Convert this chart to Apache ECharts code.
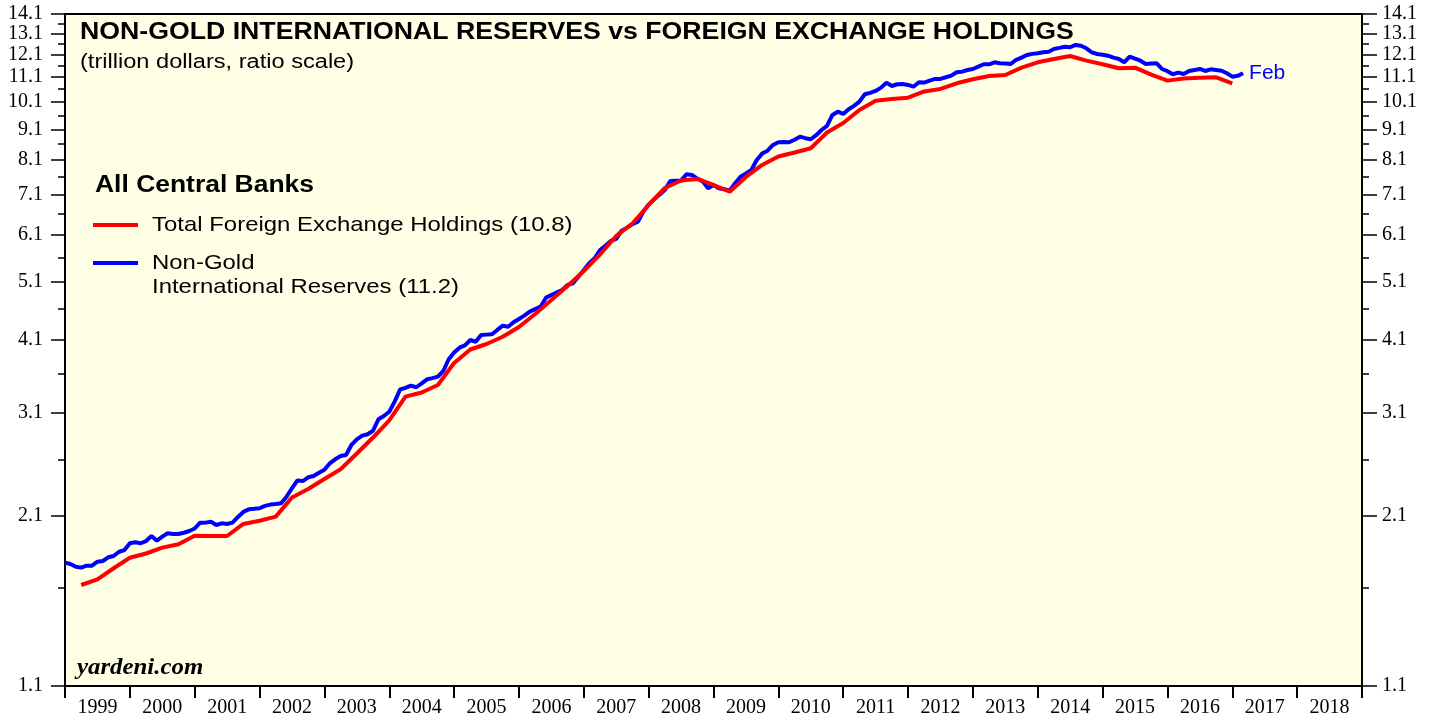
<!DOCTYPE html>
<html>
<head>
<meta charset="utf-8">
<script src="https://cdn.jsdelivr.net/npm/echarts@6/dist/echarts.min.js"></script>
<style>
  html, body { margin: 0; padding: 0; background: #fff; }
  #chart { width: 1436px; height: 719px; }
</style>
</head>
<body>
<div id="chart"></div>
<script>
// Non-gold international reserves, monthly, first value = start of 1999 (trillion $)
const reservesStart = 1999;
const reservesValues = [
  1.757, 1.748, 1.73, 1.724, 1.737, 1.737, 1.763, 1.768, 1.793, 1.802, 1.831, 1.843,
  1.891, 1.898, 1.891, 1.907, 1.944, 1.91, 1.939, 1.964, 1.959, 1.959, 1.968, 1.981,
  2.0, 2.045, 2.045, 2.052, 2.027, 2.04, 2.035, 2.045, 2.09, 2.13, 2.151, 2.155,
  2.16, 2.179, 2.19, 2.195, 2.201, 2.257, 2.33, 2.4, 2.395, 2.429, 2.441, 2.472,
  2.5, 2.562, 2.601, 2.634, 2.644, 2.746, 2.806, 2.845, 2.86, 2.899, 3.028, 3.066,
  3.116, 3.237, 3.39, 3.41, 3.439, 3.419, 3.47, 3.524, 3.54, 3.559, 3.637, 3.802,
  3.9, 3.973, 4.009, 4.091, 4.064, 4.169, 4.175, 4.18, 4.25, 4.319, 4.302, 4.375,
  4.43, 4.487, 4.555, 4.6, 4.642, 4.804, 4.853, 4.9, 4.946, 5.041, 5.074, 5.202,
  5.336, 5.474, 5.578, 5.757, 5.85, 5.958, 6.003, 6.195, 6.266, 6.35, 6.41, 6.658,
  6.84, 6.977, 7.1, 7.229, 7.481, 7.487, 7.49, 7.674, 7.654, 7.55, 7.47, 7.277,
  7.368, 7.277, 7.25, 7.211, 7.416, 7.604, 7.7, 7.799, 8.101, 8.3, 8.393, 8.576,
  8.665, 8.67, 8.665, 8.75, 8.851, 8.8, 8.764, 8.9, 9.078, 9.218, 9.611, 9.732,
  9.648, 9.821, 9.95, 10.109, 10.397, 10.45, 10.528, 10.661, 10.865, 10.729, 10.799, 10.812,
  10.771, 10.7, 10.881, 10.87, 10.95, 11.019, 11.019, 11.09, 11.157, 11.302, 11.328, 11.4,
  11.444, 11.545, 11.65, 11.65, 11.739, 11.695, 11.68, 11.665, 11.843, 11.95, 12.069, 12.12,
  12.147, 12.193, 12.22, 12.347, 12.4, 12.455, 12.427, 12.537, 12.5, 12.38, 12.193, 12.114,
  12.08, 12.037, 11.95, 11.888, 11.739, 11.992, 11.9, 11.811, 11.665, 11.68, 11.695, 11.444,
  11.35, 11.218, 11.285, 11.23, 11.358, 11.4, 11.444, 11.358, 11.43, 11.4, 11.37, 11.26,
  11.115, 11.15, 11.26
];

// Total foreign exchange holdings, quarterly, first value = end of Q1 1999
const fxStart = 1999.25;
const fxValues = [
  1.614, 1.649, 1.72, 1.79, 1.819, 1.86, 1.884, 1.946, 1.944, 1.944, 2.035, 2.06,
  2.092, 2.25, 2.324, 2.414, 2.504, 2.659, 2.825, 3.014, 3.299, 3.352, 3.449, 3.749,
  3.946, 4.029, 4.142, 4.298, 4.515, 4.762, 5.022, 5.316, 5.66, 6.072, 6.366, 6.83,
  7.284, 7.495, 7.538, 7.368, 7.183, 7.596, 7.95, 8.21, 8.335, 8.47, 8.994, 9.324,
  9.794, 10.147, 10.21, 10.263, 10.508, 10.609, 10.839, 11.005, 11.144, 11.187, 11.501, 11.739,
  11.888, 12.023, 11.811, 11.65, 11.475, 11.501, 11.2, 10.949, 11.04, 11.074, 11.09, 10.839
];

const years = [1999, 2000, 2001, 2002, 2003, 2004, 2005, 2006, 2007, 2008, 2009,
  2010, 2011, 2012, 2013, 2014, 2015, 2016, 2017, 2018, 2019];
// labelled ticks, split in two sets so the crowded top labels are not dropped
const ticksOdd = [1.1, 3.1, 5.1, 7.1, 9.1, 11.1, 13.1];
const ticksEven = [2.1, 4.1, 6.1, 8.1, 10.1, 12.1, 14.1];
const minorTicks = [1.6, 2.6, 3.6, 4.6, 5.6, 6.6, 7.6, 8.6, 9.6, 10.6, 11.6, 12.6, 13.6];

const reservesData = reservesValues.map((v, i) => [reservesStart + i / 12, v]);
const fxData = fxValues.map((v, i) => [fxStart + i / 4, v]);

const serif = 'Liberation Serif';
const sans = 'Liberation Sans';

function yAxisDef(position, ticks, len, labels, line) {
  return {
    type: 'log',
    logBase: 10,
    min: 1.1,
    max: 14.1001,   // tiny headroom so the 14.1 tick survives float rounding
    position: position,
    axisLine: { show: line, lineStyle: { color: '#000', width: 2 } },
    axisTick: { show: true, inside: false, length: len, customValues: ticks,
      lineStyle: { color: '#000', width: 1.5 } },
    axisLabel: { show: labels, customValues: ticks, margin: position === 'left' ? 22 : 20,
      showMinLabel: true, showMaxLabel: true, hideOverlap: false,
      formatter: v => Number(v).toFixed(1),
      fontFamily: serif, fontSize: 20, color: '#000' },
    splitLine: { show: false },
    minorTick: { show: false }
  };
}

const chart = echarts.init(document.getElementById('chart'));
chart.setOption({
  animation: false,
  backgroundColor: '#fff',
  grid: { left: 65, right: 74, top: 14, bottom: 33, show: true,
    backgroundColor: '#FFFFE6', borderColor: '#000', borderWidth: 2 },
  xAxis: {
    type: 'value', min: 1999, max: 2019,
    axisLine: { show: true, lineStyle: { color: '#000', width: 2 } },
    axisTick: { show: true, length: 12, customValues: years, lineStyle: { color: '#000', width: 2 } },
    axisLabel: { customValues: years.slice(0, -1).map(y => y + 0.5), margin: 12,
      formatter: v => String(Math.floor(v)), fontFamily: serif, fontSize: 20, color: '#000' },
    splitLine: { show: false }
  },
  yAxis: [
    yAxisDef('left', ticksOdd, 14, true, true),
    yAxisDef('left', ticksEven, 14, true, false),
    yAxisDef('left', minorTicks, 7, false, false),
    yAxisDef('right', ticksOdd, 15, true, true),
    yAxisDef('right', ticksEven, 15, true, false),
    yAxisDef('right', minorTicks, 7, false, false)
  ],
  series: [
    {
      name: 'Non-Gold International Reserves', type: 'line', data: reservesData,
      showSymbol: false, lineStyle: { color: '#0000FF', width: 4 }, color: '#0000FF',
      endLabel: { show: true, formatter: 'Feb', color: '#0000FF', fontFamily: sans,
        fontSize: 21, distance: 6 }
    },
    {
      name: 'Total Foreign Exchange Holdings', type: 'line', data: fxData,
      showSymbol: false, lineStyle: { color: '#FF0000', width: 4 }, color: '#FF0000'
    }
  ],
  graphic: [
    { type: 'text', x: 80, y: 33, scaleX: 1.16,
      style: { text: 'NON-GOLD INTERNATIONAL RESERVES vs FOREIGN EXCHANGE HOLDINGS',
        font: 'bold 23px "Liberation Sans"', fill: '#000', verticalAlign: 'middle' } },
    { type: 'text', x: 80, y: 62, scaleX: 1.18,
      style: { text: '(trillion dollars, ratio scale)',
        font: '20px "Liberation Sans"', fill: '#000', verticalAlign: 'middle' } },
    { type: 'text', x: 95, y: 186, scaleX: 1.15,
      style: { text: 'All Central Banks',
        font: 'bold 23px "Liberation Sans"', fill: '#000', verticalAlign: 'middle' } },
    { type: 'line', shape: { x1: 93, y1: 225, x2: 138, y2: 225 },
      style: { stroke: '#FF0000', lineWidth: 4 } },
    { type: 'text', x: 152, y: 225, scaleX: 1.14,
      style: { text: 'Total Foreign Exchange Holdings (10.8)',
        font: '21px "Liberation Sans"', fill: '#000', verticalAlign: 'middle' } },
    { type: 'line', shape: { x1: 93, y1: 263, x2: 138, y2: 263 },
      style: { stroke: '#0000FF', lineWidth: 4 } },
    { type: 'text', x: 152, y: 263, scaleX: 1.14,
      style: { text: 'Non-Gold', font: '21px "Liberation Sans"', fill: '#000', verticalAlign: 'middle' } },
    { type: 'text', x: 152, y: 287, scaleX: 1.14,
      style: { text: 'International Reserves (11.2)', font: '21px "Liberation Sans"',
        fill: '#000', verticalAlign: 'middle' } },
    { type: 'text', x: 77, y: 668, scaleX: 1.08,
      style: { text: 'yardeni.com', font: 'italic bold 23px "Liberation Serif"',
        fill: '#000', verticalAlign: 'middle' } }
  ]
});
</script>
</body>
</html>
